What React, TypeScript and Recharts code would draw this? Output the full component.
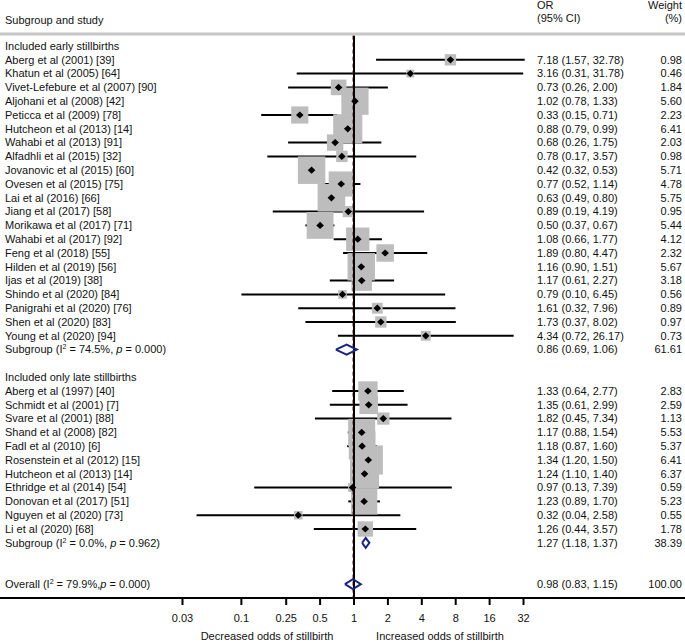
import React from 'react';
import { ComposedChart, Scatter, XAxis, YAxis, ReferenceLine, ErrorBar, Label } from 'recharts';

// Studies that included early stillbirths
const earlyStudies = [
  'Aberg et al (2001) [39]',
  'Khatun et al (2005) [64]',
  'Vivet-Lefebure et al (2007) [90]',
  'Aljohani et al (2008) [42]',
  'Peticca et al (2009) [78]',
  'Hutcheon et al (2013) [14]',
  'Wahabi et al (2013) [91]',
  'Alfadhli et al (2015) [32]',
  'Jovanovic et al (2015) [60]',
  'Ovesen et al (2015) [75]',
  'Lai et al (2016) [66]',
  'Jiang et al (2017) [58]',
  'Morikawa et al (2017) [71]',
  'Wahabi et al (2017) [92]',
  'Feng et al (2018) [55]',
  'Hilden et al (2019) [56]',
  'Ijas et al (2019) [38]',
  'Shindo et al (2020) [84]',
  'Panigrahi et al (2020) [76]',
  'Shen et al (2020) [83]',
  'Young et al (2020) [94]',
];
const earlyOR = [7.18, 3.16, 0.73, 1.02, 0.33, 0.88, 0.68, 0.78, 0.42, 0.77, 0.63, 0.89, 0.5, 1.08, 1.89, 1.16, 1.17, 0.79, 1.61, 1.73, 4.34];
const earlyLow = [1.57, 0.31, 0.26, 0.78, 0.15, 0.79, 0.26, 0.17, 0.32, 0.52, 0.49, 0.19, 0.37, 0.66, 0.8, 0.9, 0.61, 0.1, 0.32, 0.37, 0.72];
const earlyHigh = [32.78, 31.78, 2.0, 1.33, 0.71, 0.99, 1.75, 3.57, 0.53, 1.14, 0.8, 4.19, 0.67, 1.77, 4.47, 1.51, 2.27, 6.45, 7.96, 8.02, 26.17];
const earlyWeight = [0.98, 0.46, 1.84, 5.6, 2.23, 6.41, 2.03, 0.98, 5.71, 4.78, 5.75, 0.95, 5.44, 4.12, 2.32, 5.67, 3.18, 0.56, 0.89, 0.97, 0.73];

// Studies that included only late stillbirths
const lateStudies = [
  'Aberg et al (1997) [40]',
  'Schmidt et al (2001) [7]',
  'Svare et al (2001) [88]',
  'Shand et al (2008) [82]',
  'Fadl et al (2010) [6]',
  'Rosenstein et al (2012) [15]',
  'Hutcheon et al (2013) [14]',
  'Ethridge et al (2014) [54]',
  'Donovan et al (2017) [51]',
  'Nguyen et al (2020) [73]',
  'Li et al (2020) [68]',
];
const lateOR = [1.33, 1.35, 1.82, 1.17, 1.18, 1.34, 1.24, 0.97, 1.23, 0.32, 1.26];
const lateLow = [0.64, 0.61, 0.45, 0.88, 0.87, 1.2, 1.1, 0.13, 0.89, 0.04, 0.44];
const lateHigh = [2.77, 2.99, 7.34, 1.54, 1.6, 1.5, 1.4, 7.39, 1.7, 2.58, 3.57];
const lateWeight = [2.83, 2.59, 1.13, 5.53, 5.37, 6.41, 6.37, 0.59, 5.23, 0.55, 1.78];

// Pooled estimates: early subgroup, late subgroup, overall
const pooledOR = [0.86, 1.27, 0.98];
const pooledLow = [0.69, 1.18, 0.83];
const pooledHigh = [1.06, 1.37, 1.15];
const pooledWeight = [61.61, 38.39, 100.0];
const pooledI2 = ['74.5', '0.0', '79.9'];
const pooledP = ['0.000', '0.962', '0.000'];

const xTicks = [0.03, 0.1, 0.25, 0.5, 1, 2, 4, 8, 16, 32];

const FONT = '"Liberation Sans", Arial, Helvetica, sans-serif';
const NAVY = '#1b2580';
const fmt = (v: number) => v.toFixed(2);
const ciText = (or: number, lo: number, hi: number) => `${fmt(or)} (${fmt(lo)}, ${fmt(hi)})`;

// row layout (index = row number from top)
const EARLY_HEAD = 0;
const EARLY_SUB = EARLY_HEAD + earlyStudies.length + 1;
const LATE_HEAD = EARLY_SUB + 2;
const LATE_SUB = LATE_HEAD + lateStudies.length + 1;
const OVERALL = LATE_SUB + 3;
const HEAD_1 = -2.95;
const HEAD_2 = -2.03;
const HEAD_STUDY = -1.88;
const SEP = -0.87;

type Row = { label?: React.ReactNode; ci?: string; weight?: string };

const pooledLabel = (name: string, k: number, tight: boolean) => (
  <>
    {name} (I
    <tspan fontSize={7} dy={-4}>2</tspan>
    <tspan dy={4}>{` = ${pooledI2[k]}%,${tight ? '' : ' '}`}</tspan>
    <tspan fontStyle="italic">p</tspan>
    {` = ${pooledP[k]})`}
  </>
);

const rows = new Map<number, Row>();
rows.set(HEAD_1, { ci: 'OR', weight: 'Weight' });
rows.set(HEAD_2, { ci: '(95% CI)', weight: '(%)' });
rows.set(HEAD_STUDY, { label: 'Subgroup and study' });
rows.set(EARLY_HEAD, { label: 'Included early stillbirths' });
earlyStudies.forEach((s, i) =>
  rows.set(EARLY_HEAD + 1 + i, { label: s, ci: ciText(earlyOR[i], earlyLow[i], earlyHigh[i]), weight: fmt(earlyWeight[i]) })
);
rows.set(LATE_HEAD, { label: 'Included only late stillbirths' });
lateStudies.forEach((s, i) =>
  rows.set(LATE_HEAD + 1 + i, { label: s, ci: ciText(lateOR[i], lateLow[i], lateHigh[i]), weight: fmt(lateWeight[i]) })
);
const pooledRows = [EARLY_SUB, LATE_SUB, OVERALL];
pooledRows.forEach((r, k) =>
  rows.set(r, {
    label: pooledLabel(k === 2 ? 'Overall' : 'Subgroup', k, k === 2),
    ci: ciText(pooledOR[k], pooledLow[k], pooledHigh[k]),
    weight: fmt(pooledWeight[k]),
  })
);
// one text anchor per row, placed through the y scale
const textPoints = Array.from(rows.keys()).map((r) => ({ x: 1, y: r }));

const studyPoints = [
  ...earlyStudies.map((_, i) => ({
    x: earlyOR[i], y: EARLY_HEAD + 1 + i, w: earlyWeight[i], err: [earlyOR[i] - earlyLow[i], earlyHigh[i] - earlyOR[i]],
  })),
  ...lateStudies.map((_, i) => ({
    x: lateOR[i], y: LATE_HEAD + 1 + i, w: lateWeight[i], err: [lateOR[i] - lateLow[i], lateHigh[i] - lateOR[i]],
  })),
];

const diamond = (k: number) => {
  const r = pooledRows[k];
  return [
    { x: pooledLow[k], y: r },
    { x: pooledOR[k], y: r - 0.36 },
    { x: pooledHigh[k], y: r },
    { x: pooledOR[k], y: r + 0.36 },
    { x: pooledLow[k], y: r },
  ];
};

const RowText = (props: any) => {
  const { cy, payload } = props;
  const row = rows.get(payload.y);
  if (!row) return <g />;
  return (
    <g fontFamily={FONT} fontSize={11} fill="#111">
      {row.label && <text x={5} y={cy} dy="0.35em">{row.label}</text>}
      {row.ci && <text x={537} y={cy} dy="0.35em">{row.ci}</text>}
      {row.weight && <text x={682} y={cy} dy="0.35em" textAnchor="end">{row.weight}</text>}
    </g>
  );
};

const WeightBox = (props: any) => {
  const { cx, cy, payload } = props;
  const s = 11.5 * Math.sqrt(payload.w);
  return <rect x={cx - s / 2} y={cy - s / 2} width={s} height={s} fill="#bdbdbd" />;
};

const PointMark = (props: any) => {
  const { cx, cy } = props;
  return <polygon points={`${cx - 3.8},${cy} ${cx},${cy - 3.6} ${cx + 3.8},${cy} ${cx},${cy + 3.6}`} fill="#000" />;
};

const BottomLabels = () => (
  <g fontFamily={FONT} fontSize={11} fill="#111">
    <text x={267} y={640} textAnchor="middle">Decreased odds of stillbirth</text>
    <text x={440} y={640} textAnchor="middle">Increased odds of stillbirth</text>
  </g>
);

export default function App() {
  return (
    <div style={{ position: 'absolute', left: 0, top: 0, background: '#fff' }}>
      <ComposedChart width={685} height={643} margin={{ top: 0, right: 0, bottom: 0, left: 0 }}>
        <XAxis
          dataKey="x"
          type="number"
          scale="log"
          domain={[0.000719, 869]}
          allowDataOverflow
          ticks={xTicks}
          interval={0}
          height={45}
          tickSize={7}
          tickMargin={9}
          axisLine={{ stroke: '#000', strokeWidth: 2 }}
          tickLine={{ stroke: '#000', strokeWidth: 2 }}
          tick={{ fill: '#111', fontSize: 11, fontFamily: FONT }}
        >
          <Label content={BottomLabels} />
        </XAxis>
        <YAxis dataKey="y" type="number" domain={[-3.333, 40]} allowDataOverflow reversed hide />
        <ReferenceLine y={SEP} stroke="#c6c6c6" strokeWidth={3} />
        <Scatter data={textPoints} shape={RowText} isAnimationActive={false} />
        <Scatter data={studyPoints} shape={WeightBox} isAnimationActive={false} zIndex={500} />
        <ReferenceLine
          segment={[{ x: 0.98, y: -0.75 }, { x: 0.98, y: 40 }]}
          stroke="#8b1a1a"
          strokeDasharray="4 3"
          strokeWidth={1}
          zIndex={650}
        />
        <ReferenceLine
          segment={[{ x: 1, y: -0.75 }, { x: 1, y: 40 }]}
          stroke="#000"
          strokeWidth={2}
          zIndex={660}
        />
        <Scatter data={studyPoints} shape={PointMark} isAnimationActive={false} zIndex={700}>
          <ErrorBar dataKey="err" direction="x" width={0} stroke="#000" strokeWidth={2} isAnimationActive={false} />
        </Scatter>
        {pooledRows.map((_, k) => (
          <Scatter
            key={k}
            data={diamond(k)}
            line={{ stroke: NAVY, strokeWidth: 2 }}
            lineType="joint"
            fill="none"
            shape={() => <g />}
            isAnimationActive={false}
            zIndex={710}
          />
        ))}
      </ComposedChart>
    </div>
  );
}
